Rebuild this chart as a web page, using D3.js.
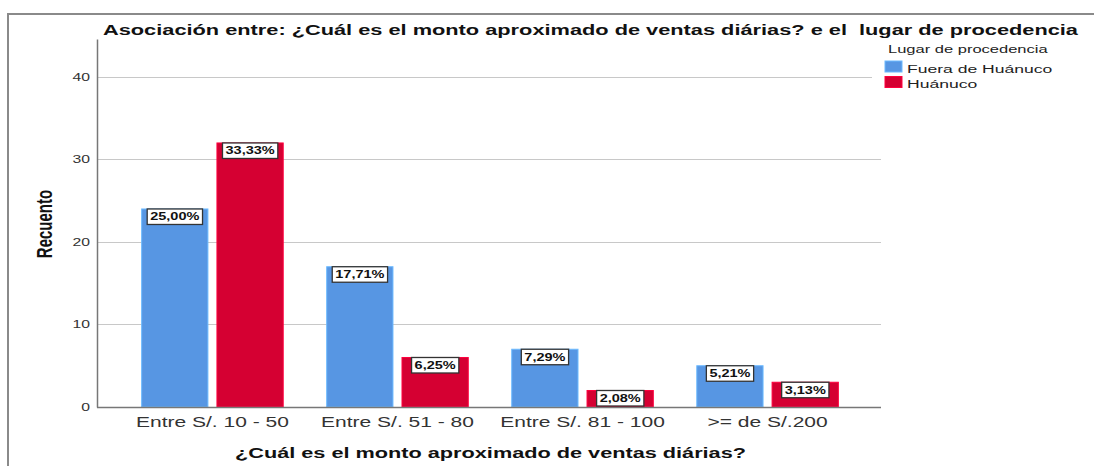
<!DOCTYPE html>
<html>
<head>
<meta charset="utf-8">
<script src="https://cdn.jsdelivr.net/npm/d3@7"></script>
<style>
body { margin: 0; background: #fff; }
svg { display: block; font-family: "Liberation Sans", Arial, sans-serif; }
</style>
</head>
<body>
<script>
var w = 1094, h = 466;
var ancho = 1.5; // el grafico original esta estirado en horizontal

// datos
var categorias = ["Entre S/. 10 - 50", "Entre S/. 51 - 80", "Entre S/. 81 - 100", ">= de S/.200"];
var grupos = ["Fuera de Huánuco", "Huánuco"];
var fuera = [24, 17, 7, 5];
var huanuco = [32, 6, 2, 3];
var etiquetasFuera = ["25,00%", "17,71%", "7,29%", "5,21%"];
var etiquetasHuanuco = ["33,33%", "6,25%", "2,08%", "3,13%"];
var ticksY = [0, 10, 20, 30, 40];

var colores = d3.scaleOrdinal().domain(grupos).range(["#5796e3", "#d50032"]);

function estirar(sel, k) {
	sel.each(function(){
		var n = this;
		n.setAttribute("textLength", n.getComputedTextLength() * k);
		n.setAttribute("lengthAdjust", "spacingAndGlyphs");
	});
}

var svg = d3.select("body").append("svg")
	.attr("width", w)
	.attr("height", h);

// marco
svg.append("rect")
	.attr("x", 8).attr("y", 14)
	.attr("width", 1200).attr("height", 600)
	.style("fill", "none")
	.style("stroke", "#8a8a8a")
	.style("stroke-width", 2);

var x0 = d3.scaleBand().domain(categorias).range([120, 860]).paddingInner(0.235).paddingOuter(0.117);
var x1 = d3.scaleBand().domain(grupos).range([0, x0.bandwidth()]).paddingInner(0.12);
var y = d3.scaleLinear().domain([0, 44.6]).range([407, 39]);

// grilla
svg.append("g").selectAll("line")
	.data(ticksY.slice(1))
	.enter().append("line")
	.attr("x1", 97).attr("x2", 881)
	.attr("y1", function(d){ return Math.round(y(d)) + 0.5; })
	.attr("y2", function(d){ return Math.round(y(d)) + 0.5; })
	.style("stroke", "#c8c8c8");

var ejeY = svg.append("g")
	.attr("transform", "translate(97,0)")
	.call(d3.axisLeft(y).tickValues(ticksY).tickSize(0).tickPadding(7));
ejeY.select(".domain").style("stroke", "#777").style("stroke-width", 1.5);
ejeY.selectAll("text").style("font-size", "10.5px").style("fill", "#333");
estirar(ejeY.selectAll("text"), ancho);

var datos = [];
categorias.forEach(function(c, i){
	datos.push({cat: c, grupo: grupos[0], v: fuera[i], et: etiquetasFuera[i]});
	datos.push({cat: c, grupo: grupos[1], v: huanuco[i], et: etiquetasHuanuco[i]});
});

svg.append("g").selectAll("rect")
	.data(datos)
	.enter().append("rect")
	.attr("x", function(d){ return x0(d.cat) + x1(d.grupo); })
	.attr("y", function(d){ return y(d.v); })
	.attr("width", x1.bandwidth())
	.attr("height", function(d){ return y(0) - y(d.v); })
	.style("fill", function(d){ return colores(d.grupo); })
	.style("stroke", function(d){ return d3.color(colores(d.grupo)).brighter(0.6); })
	.style("stroke-width", 1);

var ejeX = svg.append("g")
	.attr("transform", "translate(0,407)")
	.call(d3.axisBottom(x0).tickSize(0));
ejeX.select(".domain").attr("d", "M97,0.5H881").style("stroke", "#777").style("stroke-width", 1.5);
ejeX.selectAll("text").attr("y", 20).attr("dy", 0)
	.style("font-size", "14px").style("fill", "#333");
estirar(ejeX.selectAll("text"), ancho);

// etiquetas de porcentaje
var etq = svg.append("g").selectAll("g")
	.data(datos)
	.enter().append("g")
	.attr("transform", function(d){
		return "translate(" + (x0(d.cat) + x1(d.grupo) + x1.bandwidth() / 2) + "," + y(d.v) + ")";
	});
etq.append("text")
	.attr("text-anchor", "middle")
	.attr("y", 11.5)
	.style("font-size", "10px")
	.style("font-weight", "bold")
	.style("fill", "#111")
	.text(function(d){ return d.et; });
estirar(etq.selectAll("text"), 1.45);
etq.each(function(){
	var g = d3.select(this);
	var b = g.select("text").node().getBBox();
	g.insert("rect", "text")
		.attr("x", b.x - 3).attr("y", 0)
		.attr("width", b.width + 6).attr("height", 15.5)
		.style("fill", "#fff")
		.style("stroke", "#333")
		.style("stroke-width", 1.3);
});

// titulo
svg.append("text")
	.attr("x", 103).attr("y", 35)
	.attr("textLength", 975)
	.attr("lengthAdjust", "spacingAndGlyphs")
	.style("white-space", "pre")
	.style("font-size", "14.5px")
	.style("font-weight", "bold")
	.style("fill", "#111")
	.text("Asociación entre: ¿Cuál es el monto aproximado de ventas diárias? e el  lugar de procedencia");

svg.append("text")
	.attr("transform", "translate(52,224) scale(" + ancho + ",1) rotate(-90)")
	.attr("text-anchor", "middle")
	.style("font-size", "15px")
	.style("font-weight", "bold")
	.style("fill", "#111")
	.text("Recuento");

svg.append("text")
	.attr("x", 235).attr("y", 458)
	.attr("textLength", 511)
	.attr("lengthAdjust", "spacingAndGlyphs")
	.style("font-size", "14px")
	.style("font-weight", "bold")
	.style("fill", "#111")
	.text("¿Cuál es el monto aproximado de ventas diárias?");

// leyenda
var ley = svg.append("g").attr("transform", "translate(872,38)");
ley.append("rect").attr("width", 220).attr("height", 55).style("fill", "#fff");
var tl = ley.append("text")
	.attr("x", 16).attr("y", 15)
	.style("font-size", "11px")
	.style("fill", "#222")
	.text("Lugar de procedencia");
estirar(tl, ancho);
var items = ley.selectAll(".item")
	.data(grupos)
	.enter().append("g")
	.attr("transform", function(d, i){ return "translate(13," + (23 + i * 15.5) + ")"; });
items.append("rect")
	.attr("width", 17).attr("height", 11)
	.style("fill", function(d){ return colores(d); })
	.style("stroke", function(d){ return d3.color(colores(d)).brighter(0.6); });
items.append("text")
	.attr("x", 22).attr("y", 11.5)
	.style("font-size", "11.7px")
	.style("fill", "#222")
	.text(function(d){ return d; });
estirar(items.selectAll("text"), ancho);
</script>
</body>
</html>
